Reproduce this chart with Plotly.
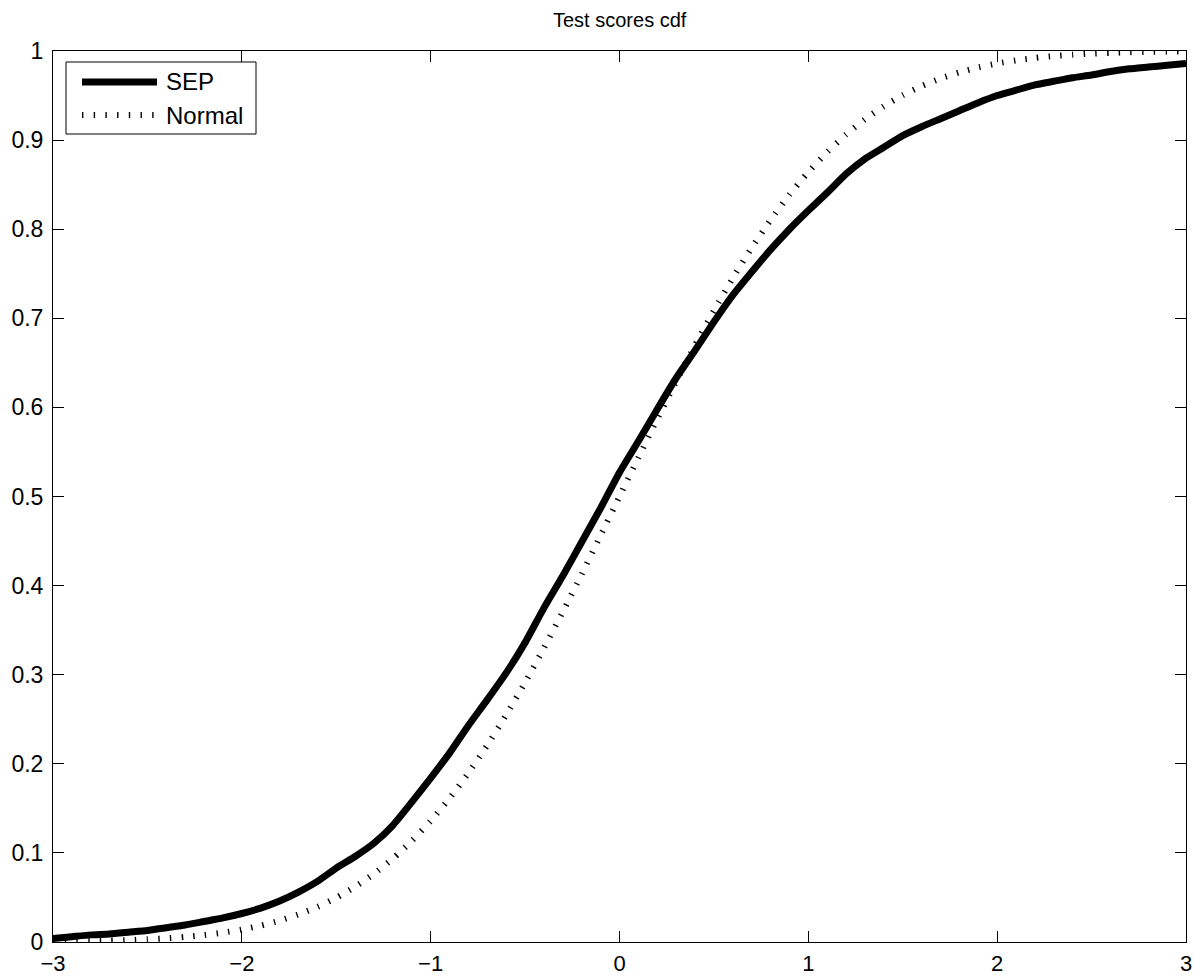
import plotly.graph_objects as go

# ---- data ----
sep_x = [-3.0, -2.9, -2.8, -2.7, -2.6, -2.5, -2.4, -2.3, -2.2, -2.1,
         -2.0, -1.9, -1.8, -1.7, -1.6, -1.5, -1.4, -1.3, -1.2, -1.1,
         -1.0, -0.9, -0.8, -0.7, -0.6, -0.5, -0.4, -0.3, -0.2, -0.1,
         0.0, 0.1, 0.2, 0.3, 0.4, 0.5, 0.6, 0.7, 0.8, 0.9,
         1.0, 1.1, 1.2, 1.3, 1.4, 1.5, 1.6, 1.7, 1.8, 1.9,
         2.0, 2.1, 2.2, 2.3, 2.4, 2.5, 2.6, 2.7, 2.8, 2.9, 3.0]
sep_y = [0.004, 0.006, 0.008, 0.009, 0.011, 0.013, 0.016, 0.019, 0.023, 0.027,
         0.032, 0.038, 0.046, 0.056, 0.068, 0.083, 0.096, 0.111, 0.131, 0.157,
         0.184, 0.212, 0.243, 0.272, 0.302, 0.336, 0.375, 0.411, 0.449, 0.487,
         0.527, 0.562, 0.598, 0.633, 0.664, 0.696, 0.726, 0.752, 0.777, 0.800,
         0.821, 0.841, 0.862, 0.879, 0.892, 0.905, 0.915, 0.924, 0.933, 0.942,
         0.950, 0.956, 0.962, 0.966, 0.970, 0.973, 0.977, 0.980, 0.982, 0.984, 0.986]

normal_x = sep_x
normal_y = [0.0005, 0.0007, 0.0010, 0.0015, 0.0021, 0.0030, 0.0042, 0.0057, 0.0078, 0.0105,
            0.0140, 0.0184, 0.0240, 0.0309, 0.0393, 0.0496, 0.0620, 0.0766, 0.0936, 0.1134,
            0.1359, 0.1613, 0.1897, 0.2209, 0.2549, 0.2913, 0.3301, 0.3708, 0.4130, 0.4563,
            0.5000, 0.5437, 0.5870, 0.6292, 0.6699, 0.7087, 0.7451, 0.7791, 0.8103, 0.8387,
            0.8641, 0.8866, 0.9064, 0.9234, 0.9380, 0.9504, 0.9607, 0.9691, 0.9760, 0.9816,
            0.9860, 0.9895, 0.9922, 0.9943, 0.9958, 0.9970, 0.9979, 0.9985, 0.9990, 0.9993, 0.9995]

x_ticks = [-3, -2, -1, 0, 1, 2, 3]
y_ticks = [0, 0.1, 0.2, 0.3, 0.4, 0.5, 0.6, 0.7, 0.8, 0.9, 1]
series_names = ["SEP", "Normal"]
title_text = "Test scores cdf"

FONT = "Liberation Sans, Arial, Helvetica, sans-serif"
DOT = "1.4px,10.3px"

fig = go.Figure()
fig.add_trace(go.Scatter(x=normal_x, y=normal_y, mode="lines", name=series_names[1],
                         line=dict(color="black", width=6, dash=DOT, shape="spline", smoothing=0.6),
                         showlegend=False))
fig.add_trace(go.Scatter(x=sep_x, y=sep_y, mode="lines", name=series_names[0],
                         line=dict(color="black", width=7, shape="spline", smoothing=0.5),
                         showlegend=False))

W, H = 1193, 976
L, R, T, B = 53, 7, 51, 34
pw, ph = W - L - R, H - T - B

def px(xp):
    return (xp - L) / pw

def py(yp):
    return (H - B - yp) / ph

# custom MATLAB-style legend (box, samples, labels)
fig.add_shape(type="rect", xref="paper", yref="paper",
              x0=px(66), x1=px(256), y0=py(134), y1=py(62),
              line=dict(color="black", width=1), fillcolor="white", layer="above")
fig.add_shape(type="line", xref="paper", yref="paper",
              x0=px(82), x1=px(157), y0=py(82), y1=py(82),
              line=dict(color="black", width=7), layer="above")
fig.add_shape(type="line", xref="paper", yref="paper",
              x0=px(82), x1=px(157), y0=py(115), y1=py(115),
              line=dict(color="black", width=6, dash=DOT), layer="above")
for name, yy in zip(series_names, [82, 115]):
    fig.add_annotation(xref="paper", yref="paper", x=px(164), y=py(yy),
                       text=name, showarrow=False, xanchor="left", yanchor="middle",
                       font=dict(family=FONT, size=24, color="black"))

fig.add_annotation(xref="paper", yref="paper", x=0.5, y=py(20),
                   text=title_text, showarrow=False, xanchor="center", yanchor="middle",
                   font=dict(family=FONT, size=20, color="black"))

axis_common = dict(showline=True, linecolor="black", linewidth=1, mirror="ticks",
                   ticks="inside", ticklen=11, tickwidth=1, tickcolor="black",
                   showgrid=False, zeroline=False, automargin=False)

fig.update_xaxes(range=[-3, 3], tickvals=x_ticks, ticklabelstandoff=2,
                 tickfont=dict(family=FONT, size=22, color="black"), **axis_common)
fig.update_yaxes(range=[0, 1], tickvals=y_ticks, ticklabelstandoff=4,
                 tickfont=dict(family=FONT, size=23, color="black"), **axis_common)

fig.update_layout(width=W, height=H, margin=dict(l=L, r=R, t=T, b=B),
                  paper_bgcolor="white", plot_bgcolor="white",
                  font=dict(family=FONT, color="black"), showlegend=False)

fig.write_html("out.html", config={"displayModeBar": False},
               post_script="document.body.style.margin='0';document.body.style.overflow='hidden';")
